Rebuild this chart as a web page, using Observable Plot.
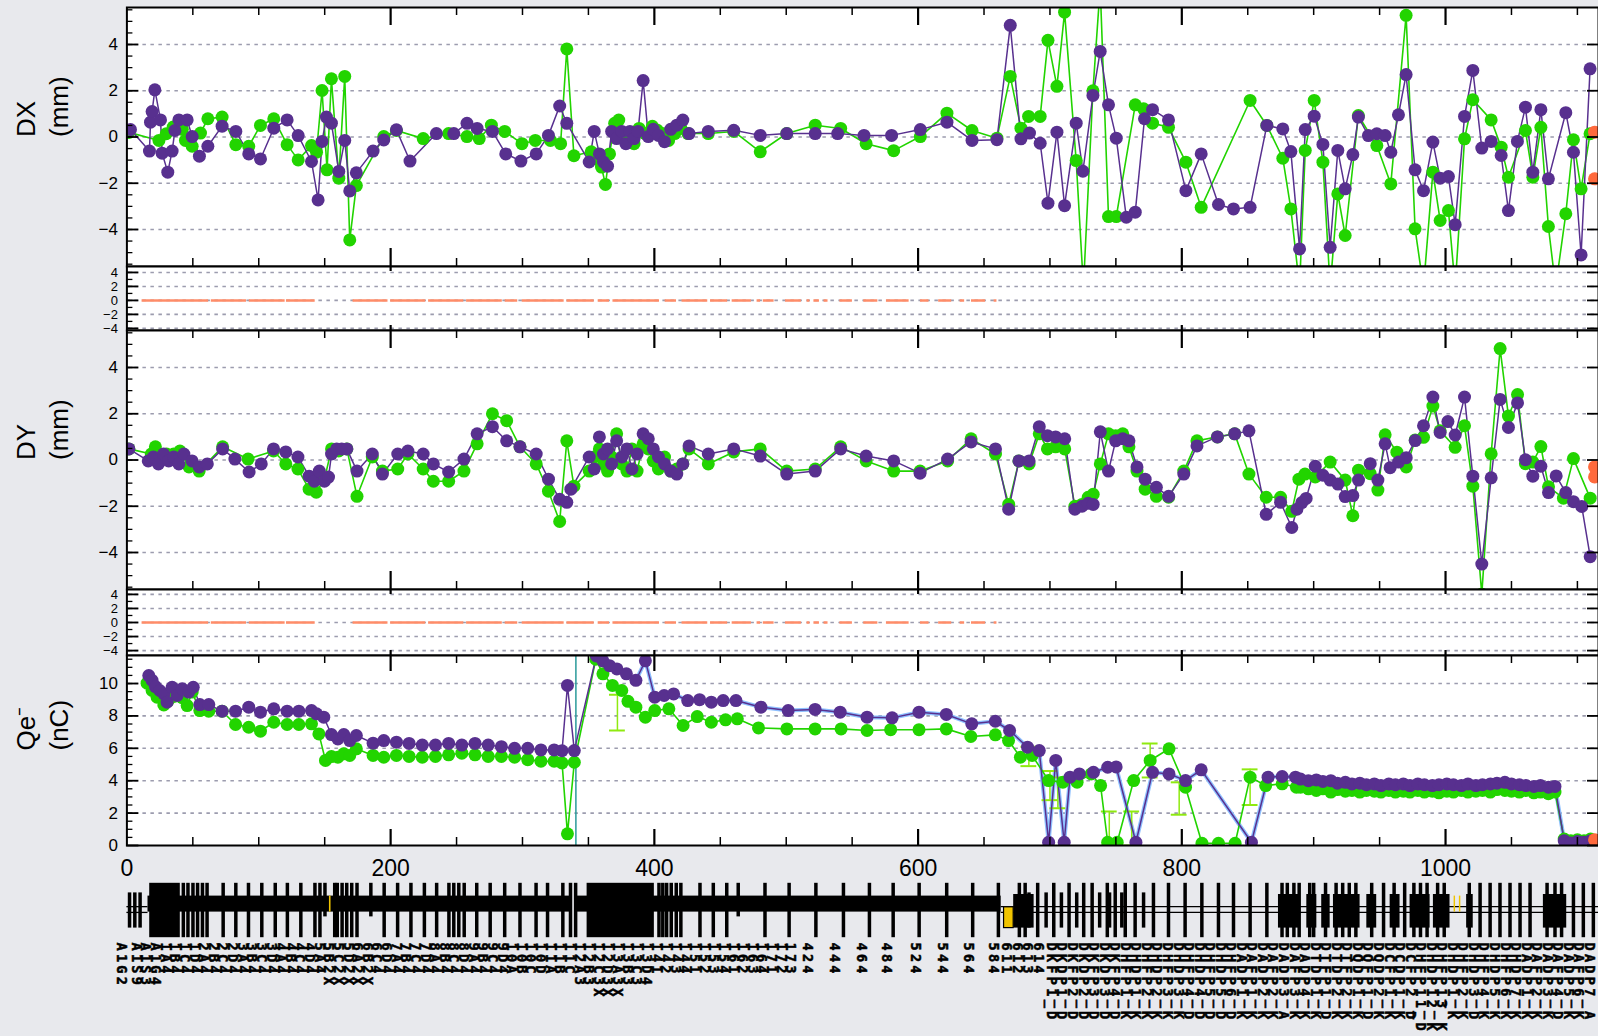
<!DOCTYPE html>
<html><head><meta charset="utf-8">
<script src="https://cdn.jsdelivr.net/npm/d3@7"></script>
<script src="https://cdn.jsdelivr.net/npm/@observablehq/plot@0.6"></script>
<style>
html,body{margin:0;padding:0;background:#e8e9ed;}
#wrap{position:relative;width:1598px;height:1036px;overflow:hidden;background:#e8e9ed;}
#wrap>div{position:absolute;left:0;}
</style></head><body><div id="wrap"></div>
<script>
// ---------------- DATA ----------------
const xTickLabels = [0, 200, 400, 600, 800, 1000];
const xMajorTicks = [200, 400, 600, 800, 1000];
const xMinorTicks = [50,100,150,250,300,350,450,500,550,650,700,750,850,900,950,1050,1100];

const dTicksMajor = [-4, -2, 0, 2, 4];
const dTicksMinor = [-5.5,-5,-4.5,-4,-3.5,-3,-2.5,-2,-1.5,-1,-0.5,0,0.5,1,1.5,2,2.5,3,3.5,4,4.5,5,5.5];
const sTicksMinor = [-4,-3,-2,-1,0,1,2,3,4];
const qTicksMajor = [0, 2, 4, 6, 8, 10];
const qTicksMinor = [0.5,1,1.5,2,2.5,3,3.5,4,4.5,5,5.5,6,6.5,7,7.5,8,8.5,9,9.5,10,10.5,11,11.5];
const qGrid = [2, 4, 6, 8, 10];

const dxPurple = [[2.7,0.32],[17.1,-0.61],[17.9,0.64],[19.1,1.10],[21.2,2.04],[25.5,0.74],[26.7,-0.70],[31.0,-1.52],[34.3,-0.61],[36.4,0.28],[39.4,0.74],[45.7,0.74],[49.5,0.02],[55.0,-0.83],[61.4,-0.40],[72.2,0.47],[82.6,0.24],[92.4,-0.73],[101.3,-0.95],[111.4,0.38],[121.5,0.74],[129.9,0.06],[140.0,-1.06],[145.0,-2.72],[148.0,-0.19],[151.3,0.86],[155.1,0.60],[160.7,-1.49],[165.2,-0.15],[169.0,-2.33],[174.0,-1.55],[186.7,-0.61],[194.8,-0.13],[204.4,0.31],[214.7,-1.04],[234.7,0.15],[247.9,0.15],[257.9,0.59],[265.6,0.37],[277.2,0.24],[287.3,-0.73],[298.8,-1.04],[310.4,-0.73],[319.7,0.07],[328.2,1.34],[333.6,0.59],[350.6,-1.08],[354.4,0.24],[358.3,-0.73],[361.4,-1.08],[364.5,-1.26],[367.6,0.24],[371.4,-0.07],[375.3,0.24],[378.4,-0.29],[381.5,0.24],[384.6,-0.07],[387.6,0.24],[391.5,2.44],[395.4,0.02],[399.2,0.33],[403.1,0.07],[407.7,-0.2],[412.4,0.33],[417,0.51],[421.6,0.73],[426.3,0.15],[440.9,0.24],[460.2,0.29],[480.3,0.07],[500.4,0.15],[522,0.15],[539,0.15],[559,0.07],[579.9,0.07],[601.7,0.32],[621.9,0.64],[640.9,-0.15],[659.8,-0.12],[669.9,4.83],[678,-0.08],[684.5,0.17],[692.6,-0.27],[698.5,-2.86],[705.3,0.21],[711.1,-2.97],[719.9,0.6],[725,-1.48],[732.6,1.8],[738.1,3.7],[744.4,1.39],[750.3,-0.05],[757.9,-3.47],[764.7,-3.25],[771.7,0.79],[777.8,1.18],[789.9,0.74],[803.1,-2.32],[814.7,-0.73],[827.8,-2.92],[839.2,-3.11],[851.8,-3.04],[864.5,0.5],[876.6,0.35],[882.7,-0.63],[889.3,-4.84],[893.6,0.32],[900.4,0.9],[907,-0.32],[912.5,-4.77],[918.3,-0.58],[923.9,-2.24],[929.7,-0.76],[933.9,0.86],[941.5,0.06],[947.9,0.14],[954.2,0.06],[958.5,-0.66],[964.3,0.96],[970.1,2.7],[976.9,-1.42],[983.3,-2.32],[990.4,-0.22],[995.9,-1.78],[1002.2,-1.71],[1007.3,-3.79],[1014.4,0.89],[1020.7,2.88],[1027.5,-0.48],[1034.6,-0.19],[1042.2,-0.8],[1047.7,-3.18],[1054.5,-0.19],[1060.6,1.29],[1066.2,-1.52],[1072.3,1.18],[1078,-1.81],[1091.2,1.05],[1097,-0.66],[1102.8,-5.1],[1109.6,2.95]];
const dxGreen = [[1.5,0.2],[24.3,-0.15],[29.8,0.14],[35.1,0.43],[42,0.33],[44.4,-0.15],[49.5,-0.4],[55.8,0.17],[61.4,0.79],[72.2,0.86],[82.6,-0.33],[92.4,-0.4],[101.3,0.5],[111.4,0.79],[121.5,-0.33],[129.9,-0.99],[140,-0.37],[143.8,-0.66],[148,2.01],[151.8,-1.42],[155.1,2.52],[160.7,-1.78],[165.2,2.62],[169,-4.45],[174,-2.1],[194.8,0.02],[204.4,0.28],[224.7,-0.07],[244,0.15],[257.9,0.02],[267.2,-0.07],[276.4,0.51],[286.5,0.24],[299.6,-0.29],[309.7,-0.15],[321.2,-0.15],[328.9,-0.29],[333.6,3.81],[339,-0.81],[352.1,-0.64],[356,-0.95],[359.9,-1.3],[362.9,-2.05],[366,-0.73],[369.9,0.59],[373,0.73],[376.8,0.15],[380.7,-0.15],[384.6,-0.29],[388.4,0.37],[393.1,0.15],[398.5,0.46],[402.3,0.29],[406.2,0.15],[410.8,-0.15],[415.4,0.15],[420.1,0.37],[425.5,0.15],[440.9,0.15],[460.2,0.24],[480.3,-0.64],[500.4,0.15],[522,0.51],[541.3,0.37],[560.6,-0.29],[581.5,-0.59],[601.7,0.02],[621.9,1.03],[640.9,0.28],[659.8,-0.05],[669.9,2.62],[678,0.38],[683.8,0.89],[692.6,0.89],[698.5,4.18],[705.3,2.19],[711.1,5.4],[719.9,-1.02],[725.4,-6.5],[732.6,2.0],[738.1,6.5],[744.4,-3.44],[750.3,-3.44],[764.7,1.39],[771,1.22],[777.8,0.6],[789.9,0.42],[803.1,-1.09],[814.7,-3.04],[851.8,1.58],[864.5,0.5],[876.6,-0.92],[882.7,-3.11],[889.3,-6.5],[893.6,-0.58],[900.4,1.58],[907,-1.09],[912.5,-6.5],[918.3,-2.46],[923.9,-4.26],[933.9,0.93],[947.9,-0.37],[958.5,-2.03],[970.1,5.26],[976.9,-3.97],[983.3,-6.5],[990.4,-1.52],[995.9,-3.61],[1002.2,-3.18],[1007.3,-6.5],[1014.4,-0.08],[1020.7,1.61],[1034.6,0.74],[1042.2,-0.44],[1047.7,-1.74],[1060.6,0.28],[1066.2,-1.74],[1072.3,0.42],[1078,-3.87],[1083.5,-6.5],[1091.2,-3.32],[1097,-0.12],[1102.8,-2.24],[1109.6,0.14]];
const dxOrange = [[1113,0.21],[1113,-1.81]];

const dyPurple = [[1.5,0.48],[16.2,-0.04],[20.1,0.13],[23.9,-0.17],[27.8,0.26],[31.7,-0.04],[35.5,0.13],[39.4,-0.17],[43.2,0.26],[49.4,-0.04],[54.8,-0.3],[61,-0.17],[72.6,0.48],[81.9,0.04],[92.7,-0.52],[101.9,-0.17],[111.2,0.48],[120.5,0.35],[129.7,0.13],[138.2,-0.7],[142.1,-0.92],[145.9,-0.48],[149.8,-0.92],[152.9,-0.74],[155.2,0.26],[159.1,0.48],[162.9,0.48],[166.8,0.48],[174.5,-0.48],[186.1,0.26],[193.8,-0.61],[205.4,0.26],[213.1,0.39],[224.7,0.26],[232.4,-0.17],[244,-0.52],[255.6,0.04],[265.6,1.13],[277.2,1.44],[288,0.83],[298.1,0.57],[310.4,0.26],[319.7,-0.83],[328.2,-1.7],[333.6,-1.83],[336.7,-1.26],[350.6,0.13],[354.4,-0.39],[358.3,1.0],[361.4,0.26],[364.5,0.48],[367.6,-0.17],[371.4,0.83],[375.3,0.13],[379.2,0.48],[383,-0.39],[386.9,0.26],[391.5,1.13],[395.4,0.92],[399.2,0.48],[403.1,0.13],[407.7,-0.17],[412.4,-0.48],[417,-0.61],[421.6,-0.17],[426.3,0.61],[440.9,0.26],[460.2,0.48],[480.3,0.17],[500.4,-0.61],[522,-0.48],[541.3,0.48],[560.6,0.17],[581.5,-0.04],[601.5,-0.57],[622.4,0.04],[640.2,0.78],[658.7,0.48],[668.7,-2.13],[676.5,-0.04],[684.2,-0.04],[691.9,1.44],[698.1,1.05],[704.3,1.0],[711.2,0.92],[718.9,-2.13],[724.3,-2.0],[729,-1.87],[732.8,-1.92],[738.2,1.22],[744.4,-0.48],[749.8,0.83],[755.2,0.92],[759.9,0.83],[766,-0.3],[772.2,-0.83],[780.7,-1.18],[790,-1.57],[801.5,-0.61],[811.5,0.61],[827,1.0],[840.1,1.13],[850.9,1.26],[864,-2.35],[874.9,-1.83],[883.4,-2.92],[887.3,-2.13],[891,-1.84],[894.3,-1.66],[901.2,-0.27],[907,-0.66],[912.5,-0.87],[918.4,-1.04],[923.9,-1.58],[929.7,-1.54],[934,-0.87],[942.9,-0.16],[948.7,-0.87],[954.2,0.7],[958,-0.33],[964.4,-0.09],[970.2,0.1],[977,0.84],[983.3,1.48],[990.4,2.72],[995.9,1.19],[1001.8,1.66],[1007.3,1.08],[1014.4,2.72],[1020.7,-0.7],[1027.5,-4.5],[1034.6,-0.77],[1041.4,2.62],[1047.7,1.41],[1054.6,2.47],[1060.6,0.01],[1066.2,-0.7],[1072.3,-0.27],[1078.1,-1.41],[1083.9,-0.69],[1091.2,-1.41],[1097,-1.8],[1103.3,-2.01],[1109.7,-4.18]];
const dyGreen = [[1.5,0.48],[18.5,0.26],[21.6,0.57],[26.3,0.04],[30.1,0.26],[35.5,0.26],[40.2,0.39],[47.1,-0.3],[54.8,-0.48],[72.6,0.57],[91.9,0.04],[111.2,0.39],[120.5,-0.17],[129.7,-0.39],[138.2,-1.26],[143.6,-1.39],[149.8,-0.83],[155.2,0.48],[160.6,0.39],[166.8,0.48],[174.5,-1.57],[186.1,0.13],[193.8,-0.48],[205.4,-0.39],[213.1,0.26],[224.7,-0.39],[232.4,-0.92],[244,-0.92],[255.6,-0.48],[265.6,0.7],[277.2,2.0],[288,1.7],[298.1,0.57],[310.4,-0.17],[319.7,-1.35],[328.2,-2.66],[333.6,0.83],[339,-1.13],[350.6,-0.48],[354.4,0.13],[358.3,0.48],[361.4,-0.17],[364.5,-0.48],[367.6,0.13],[371.4,1.13],[375.3,-0.17],[379.2,-0.48],[383,0.48],[386.9,-0.48],[391.5,0.7],[395.4,0.48],[399.2,-0.04],[403.1,-0.39],[407.7,0.13],[412.4,-0.48],[417,-0.39],[421.6,-0.17],[426.3,0.48],[440.9,-0.17],[460.2,0.35],[480.3,0.48],[500.4,-0.48],[522,-0.39],[541.3,0.57],[560.6,-0.04],[581.5,-0.48],[601.5,-0.48],[622.4,-0.04],[640.2,0.92],[658.7,0.26],[668.7,-1.92],[676.5,-0.04],[684.2,-0.17],[691.9,1.13],[698.1,0.48],[704.3,0.57],[711.2,0.48],[718.9,-2.0],[724.3,-1.92],[729,-1.61],[732.8,-1.48],[738.2,-0.17],[744.4,1.13],[749.8,1.05],[755.2,1.13],[759.9,0.57],[766,-0.48],[772.2,-1.26],[780.7,-1.57],[790,-1.61],[801.5,-0.48],[811.5,0.83],[827,1.0],[840.1,1.13],[850.9,-0.61],[864,-1.61],[874.9,-1.61],[883.4,-2.22],[888.8,-0.83],[893.4,-0.61],[901.2,-0.73],[912.5,-0.09],[923.9,-0.87],[929.7,-2.41],[934,-0.44],[942.9,-0.59],[948.7,-1.3],[954.2,1.09],[963.1,0.34],[970.2,-0.3],[977,0.87],[983.3,0.98],[990.4,2.33],[995.9,1.26],[1007.3,0.55],[1014.4,1.48],[1020.7,-1.13],[1027.5,-5.8],[1034.6,0.27],[1041.4,4.82],[1047.7,1.9],[1054.6,2.83],[1060.6,-0.16],[1066.2,-0.09],[1072.3,0.58],[1078.1,-1.16],[1089.4,-1.65],[1097,0.06],[1109.7,-1.65]];
const dyOrange = [[1113,-0.3],[1113,-0.73]];

const qePurple = [[16.6,10.49],[19.1,10.19],[21.6,9.81],[24.9,9.57],[28,9.36],[30.5,8.85],[34.3,9.77],[38.1,9.26],[41.9,9.67],[46.9,9.47],[50.3,9.77],[55.3,8.7],[62.1,8.7],[72.2,8.29],[82.4,8.29],[92.4,8.54],[101.3,8.23],[111.4,8.44],[121.5,8.29],[130.4,8.29],[140,8.33],[143.8,8.13],[149.3,7.92],[155.1,6.85],[160,6.58],[164.5,6.85],[169,6.48],[174,6.79],[186.7,6.32],[194.8,6.48],[204.4,6.38],[214,6.3],[224,6.2],[234,6.2],[244,6.3],[254,6.2],[264,6.3],[274,6.2],[284,6.1],[294,6.0],[304,6.0],[314,5.9],[324,5.9],[330,5.85],[334.1,9.88],[339.3,5.86],[356,11.7],[361,11.4],[366,11.1],[371.6,10.9],[378.8,10.6],[386,10.2],[393.2,11.4],[400.3,9.16],[407.4,9.26],[414.6,9.36],[425.3,8.95],[434.3,9.0],[443.2,8.85],[452.2,8.95],[461.9,8.95],[480.8,8.54],[501.5,8.33],[521.9,8.4],[540.9,8.23],[561.3,7.92],[580.3,7.88],[600.7,8.23],[621.4,8.09],[640.7,7.51],[658.6,7.67],[669.4,7.1],[683,6.07],[691.9,5.86],[699,0.2],[704.4,5.25],[710.8,0.2],[715.2,4.22],[722.3,4.42],[733,4.52],[743.8,4.83],[750.2,4.85],[765.2,0.2],[777.8,4.52],[790.3,4.42],[802.8,4.01],[814.7,4.67],[852.8,0.2],[865.4,4.22],[876.1,4.26],[886.2,4.22],[890,4.1],[896,4.0],[902,4.05],[907,3.95],[913,4.0],[918,3.85],[924,3.9],[929,3.8],[935,3.85],[940,3.75],[946,3.8],[951,3.7],[957,3.8],[962,3.75],[968,3.8],[973,3.7],[979,3.8],[984,3.75],[990,3.7],[995,3.75],[1001,3.8],[1006,3.75],[1012,3.7],[1017,3.8],[1023,3.7],[1028,3.75],[1034,3.8],[1039,3.85],[1045,3.9],[1050,3.8],[1056,3.75],[1061,3.7],[1067,3.65],[1072,3.7],[1078,3.6],[1083,3.65],[1090,0.3],[1095,0.15],[1100,0.25],[1105,0.2],[1110,0.3],[1115,0.25]];
const qeGreen = [[15.3,10.02],[19.1,9.57],[22.9,9.16],[28,8.68],[31.3,8.95],[35.6,9.2],[41.9,9.12],[45.7,8.64],[49.5,9.47],[55.3,8.33],[62.1,8.29],[72.2,8.29],[82.4,7.47],[92.4,7.3],[101.3,7.06],[111.4,7.61],[121.5,7.47],[130.4,7.47],[140,7.51],[145.6,6.89],[150.6,5.25],[155.1,5.49],[160,5.45],[164.5,5.66],[169,5.56],[174,5.97],[186.7,5.56],[194.8,5.45],[204.4,5.56],[214,5.5],[224,5.45],[234,5.5],[244,5.6],[254,5.7],[264,5.6],[274,5.5],[284,5.5],[294,5.45],[304,5.3],[314,5.2],[324,5.2],[330,5.1],[334.1,0.72],[339.3,5.14],[355.6,11.5],[361,10.6],[368.2,9.88],[375.3,9.57],[380,8.9],[386,8.54],[393.2,7.92],[400.3,8.33],[411,8.44],[421.8,7.41],[432.5,7.96],[443.2,7.61],[454,7.76],[462.9,7.82],[479,7.26],[500.5,7.2],[521.9,7.2],[541.6,7.2],[561.3,7.1],[579.2,7.15],[600.7,7.15],[621.4,7.2],[640,6.73],[658.6,6.83],[668.6,6.48],[677.6,5.45],[686.5,5.56],[699,4.01],[709.8,3.91],[720.6,3.91],[731.3,4.42],[738.4,3.7],[743.8,0.2],[751,0.2],[763.5,4.01],[776,5.25],[790.3,5.97],[802.8,3.6],[815.3,0.14],[827.8,0.14],[840.4,0.14],[851.8,4.22],[863.6,3.7],[876.1,3.81],[886.9,3.6],[890,3.6],[896,3.5],[902,3.4],[907,3.5],[913,3.3],[918,3.45],[924,3.35],[929,3.4],[935,3.3],[940,3.4],[946,3.35],[951,3.3],[957,3.4],[962,3.3],[968,3.35],[973,3.3],[979,3.4],[984,3.3],[990,3.35],[995,3.25],[1001,3.35],[1006,3.3],[1012,3.4],[1017,3.3],[1023,3.35],[1028,3.4],[1034,3.3],[1039,3.45],[1045,3.4],[1050,3.35],[1056,3.3],[1061,3.4],[1067,3.25],[1072,3.3],[1078,3.2],[1083,3.3],[1090,0.4],[1095,0.3],[1100,0.35],[1105,0.3],[1110,0.4],[1115,0.3]];
const qeOrange = [[1113,0.35]];
const qeGreenErr = [[372,7.1,9.3],[684,4.9,6.1],[700,2.8,4.6],[706,2.3,4.2],[745,0,2.1],[762,0,2.1],[776,4.2,6.3],[798,1.9,3.9],[851.8,2.5,4.7]];
const qeMarker = [340.5];

// reference (zero) traces in the small panels: [from, to]
const refSegments = [[11.5,62],[64,90.7],[92.8,120],[121,142.8],[171.5,198],[200,226.6],[228.8,255.5],[257.6,284.7],[286.9,296.4],[299.8,331.6],[333.7,354.4],[357.4,366],[368.6,403.9],[408.2,416.8],[421,440.5],[442.6,455.6],[459,473.6],[477.9,480.5],[482.6,490.8],[499.5,511.5],[515.8,518],[521,525.2],[528.7,531.7],[540.7,550.2],[558.8,569.5],[576,593.2],[601.8,608.3],[615.6,625.5],[631.9,635.3],[640.5,651.2],[657.7,659.8]];

// beamline lattice
const latticeBand = [[16,336],[341,663]];
const latticeThin = [[0,16],[663,1116]];
const latticeQuads = [[2,"S"],[6,"S"],[10,"S"],[42.8,"F"],[46.3,"F"],[50.1,"F"],[53.6,"F"],[57.3,"F"],[60.8,"F"],[73,"F"],[82.6,"F"],[92.2,"F"],[102.3,"F"],[112.5,"F"],[121.7,"F"],[131.9,"F"],[142.6,"F"],[146.4,"F"],[150.2,"U"],[157.6,"F"],[159.5,"F"],[163.2,"F"],[166.7,"F"],[170.5,"F"],[174.5,"F"],[185,"U"],[195.1,"F"],[205.3,"F"],[215.4,"F"],[225.6,"F"],[234.9,"F"],[244.2,"F"],[247.9,"F"],[251.7,"F"],[255.8,"F"],[265.3,"F"],[275.5,"F"],[286.5,"F"],[298.1,"F"],[310.3,"F"],[319,"F"],[330.6,"F"],[336.4,"F"],[340.3,"F"],[403.5,"F"],[406.4,"F"],[409.3,"F"],[412.8,"F"],[416.6,"F"],[420.1,"F"],[434.6,"F"],[444.7,"F"],[454.9,"F"],[463.6,"U"],[483.9,"F"],[502.2,"F"],[522.5,"F"],[543.4,"F"],[563.1,"F"],[581.1,"F"],[600.8,"F"],[621.7,"F"],[641.4,"F"],[660.9,"F"],[676.8,"F"],[681.2,"F"],[684.1,"S"],[690.7,"F"],[697.1,"S"],[702.9,"F"],[708.7,"S"],[714.5,"F"],[720.3,"S"],[725.6,"F"],[732,"F"],[737.7,"S"],[743.5,"F"],[745.2,"S"],[749.5,"F"],[754.5,"S"],[757.1,"F"],[764.6,"F"],[771,"S"],[778.5,"F"],[789.9,"F"],[802.5,"F"],[815.2,"F"],[827.8,"F"],[839.2,"F"],[851.8,"F"],[864.5,"F"],[876,"F"],[880,"F"],[885,"F"],[889,"F"],[897,"F"],[900,"F"],[909,"F"],[917,"F"],[922,"F"],[927,"F"],[932,"F"],[944,"F"],[953,"F"],[961,"F"],[969,"F"],[976,"F"],[981,"F"],[986,"F"],[994,"F"],[999,"F"],[1018,"F"],[1026.2,"F"],[1033.8,"F"],[1041.3,"F"],[1048.9,"F"],[1056.5,"F"],[1064.1,"F"],[1077,"F"],[1083,"F"],[1088,"F"],[1097,"F"],[1104.5,"F"],[1112.1,"F"]];
const latticeBlocks = [[17.3,40.5,"F"],[349,400,"F"],[672.5,688,"M"],[873.3,889.7,"M"],[894.8,902.4,"M"],[906.1,912.5,"M"],[915,935.2,"M"],[940.3,947.8,"M"],[958,965.5,"M"],[973.1,988.3,"M"],[990.8,1003.4,"M"],[1016,1021,"M"],[1074.2,1091.9,"M"]];
const latticeCavities = [[153.6,154.8,"T"],[665.2,672.5,"B"],[1006.5,1007.6,"T"],[1010.5,1011.6,"T"]];

// element names (position along the beamline, name)
const elementLabels = [[-4.3,"A1G2"],[7,"A1S9"],[14.3,"A1S3"],[21.6,"A1G4"],[28.9,"1A4"],[36.2,"1B4"],[43.5,"1C4"],[50.8,"1D4"],[58.1,"2A4"],[65.4,"2B4"],[72.7,"2C4"],[80,"2D4"],[87.3,"3A4"],[94.6,"3B4"],[101.9,"3C4"],[109.2,"3D4"],[116.5,"4A4"],[123.8,"4B4"],[131.1,"4C4"],[138.4,"4D4"],[145.7,"5A4"],[153,"5B2X"],[160.3,"5C2X"],[167.6,"5D2X"],[174.9,"6A2X"],[182.2,"6B2X"],[189.5,"6C4"],[196.8,"6D4"],[204.1,"7A4"],[211.4,"7B4"],[218.7,"7C4"],[226,"7D4"],[233.3,"8A4"],[240.6,"8B4"],[247.9,"8C4"],[255.2,"8D4"],[262.5,"9A4"],[269.8,"9B4"],[277.1,"9C4"],[284.4,"9D4"],[291.7,"10A"],[299,"10B"],[306.3,"10C"],[313.6,"10D"],[320.9,"11A"],[328.2,"11B"],[335.5,"11C"],[342.8,"12A3"],[350.1,"12B3"],[357.4,"12C3X"],[364.7,"12D3X"],[372,"13A3X"],[379.3,"13B3"],[386.6,"13C3"],[393.9,"13D4"],[401.2,"141"],[408.5,"142"],[415.8,"143"],[423.1,"144"],[430.4,"151"],[437.7,"152"],[445,"153"],[452.3,"154"],[459.6,"161"],[466.9,"162"],[474.2,"163"],[481.5,"164"],[488.8,"171"],[496.1,"172"],[503.4,"173"],[515.8,"424"],[536.7,"444"],[556.8,"464"],[576,"484"],[597.7,"524"],[618.5,"544"],[637.8,"564"],[657,"584"],[666.7,"611"],[675.4,"612"],[683,"613"],[691.3,"614"],[701,"DKFP1_D"],[709,"DKDP1_D"],[717,"DKFP2_D"],[725,"DKDP2_D"],[733,"DKFP3_D"],[741,"DKDP3_D"],[749,"DKFP4_D"],[757,"DHFP1_K"],[765,"DHDP1_K"],[773,"DHFP2_K"],[781,"DHDP2_K"],[789,"DHFP3_K"],[797,"DHDP3_K"],[805,"DHFP4_D"],[813,"DHDP4_D"],[821,"DHFP5_D"],[829,"DHDP5_D"],[837,"DHFP6_D"],[845,"DADP1_K"],[853,"DAFP1_K"],[861,"DADP2_K"],[869,"DAFP2_K"],[877,"DADP3_A"],[885,"DAFP3_K"],[893,"DADP4_K"],[901,"DTDP1_K"],[909,"DTFP1_D"],[917,"DTDP2_K"],[925,"DTFP2_K"],[933,"DQDP1_K"],[941,"DQFP1_D"],[949,"DQDP2_K"],[957,"DCFP1_K"],[965,"DCDP1_K"],[973,"DCFP2_D"],[981,"DHFP11_D"],[989,"DHDP12_K"],[997,"DHFP13_K"],[1005,"DHDP1_K"],[1013,"DHFP2_K"],[1021,"DHDP3_D"],[1029,"DHFP4_K"],[1037,"DHDP5_K"],[1045,"DHFP6_K"],[1053,"DHDP7_K"],[1061,"DADP1_K"],[1069,"DAFP2_K"],[1077,"DADP3_K"],[1085,"DAFP4_D"],[1093,"DADP5_K"],[1101,"DAFP6_K"],[1109,"DADP7_A"]];

// ---------------- DRAWING ----------------
const W = 1598, ML = 126.4, XMAX = 1116, PW = W - ML;
const PURPLE = "#58308f", GREEN = "#22d400", ORANGE = "#ff6a3d", SEG = "#ff8c68", GRIDC = "#9c9cae";
const FONT = "Liberation Sans, Arial, Helvetica, sans-serif";
const fmt = d => (d < 0 ? "\u2212" + Math.abs(d) : String(d));
const xs = {domain: [0, XMAX], axis: null};

function series(purple, green, orange) {
  return [
    Plot.line(green, {x: d => d[0], y: d => d[1], stroke: GREEN, strokeWidth: 1.6, clip: true}),
    Plot.line(purple, {x: d => d[0], y: d => d[1], stroke: PURPLE, strokeWidth: 1.5, clip: true}),
    Plot.dot(green, {x: d => d[0], y: d => d[1], r: 6.5, fill: GREEN, clip: true}),
    Plot.dot(purple, {x: d => d[0], y: d => d[1], r: 6.5, fill: PURPLE, clip: true}),
    Plot.dot(orange, {x: d => d[0], y: d => d[1], r: 6.5, fill: ORANGE, clip: true})
  ];
}

function panel(o) {
  const h = o.height, mb = o.mb || 0;
  const fs = o.tickFont || 17;
  const marks = [
    Plot.frame({fill: "white", stroke: null}),
    Plot.ruleY(o.grid, {y: d => d, stroke: GRIDC, strokeWidth: 1.6, strokeDasharray: "3.5,4.5"}),
    ...o.marks,
    Plot.tickY(o.minorY, {y: d => d, insetRight: PW - 6, stroke: "black", strokeWidth: 1.3}),
    Plot.tickY(o.majorY, {y: d => d, insetRight: PW - 12, stroke: "black", strokeWidth: 1.8}),
    Plot.tickY(o.majorY, {y: d => d, insetLeft: PW - 11, stroke: "black", strokeWidth: 1.8}),
    Plot.text(o.majorY, {y: d => d, text: fmt, frameAnchor: "left", dx: -9, textAnchor: "end", fontSize: fs, fontFamily: FONT, fill: "black"}),
    Plot.text([o.title], {frameAnchor: "left", dx: -86, rotate: -90, fontSize: 26, lineHeight: 1.27, fontFamily: FONT, fill: "black", text: d => d}),
    Plot.frame({stroke: "black", strokeWidth: 2})
  ];
  if (o.xMinorLen) {
    marks.push(Plot.tickX(xMinorTicks, {x: d => d, insetBottom: h - o.xMinorLen, stroke: "black", strokeWidth: 1.5}));
    marks.push(Plot.tickX(xMinorTicks, {x: d => d, insetTop: h - o.xMinorLen, stroke: "black", strokeWidth: 1.5}));
  }
  marks.push(Plot.tickX(xMajorTicks, {x: d => d, insetBottom: h - o.xMajorLen, stroke: "black", strokeWidth: 2.2}));
  marks.push(Plot.tickX(xMajorTicks, {x: d => d, insetTop: h - o.xMajorLen, stroke: "black", strokeWidth: 2.2}));
  if (o.xLabels) {
    marks.push(Plot.text(xTickLabels, {x: d => d, text: d => String(d), frameAnchor: "bottom", dy: 30, fontSize: 23, fontFamily: FONT, fill: "black"}));
  }
  return Plot.plot({
    width: W, height: h + mb, marginLeft: ML, marginRight: 0, marginTop: 0, marginBottom: mb,
    x: xs, y: {domain: o.ydomain, axis: null},
    style: "background: transparent; overflow: visible;",
    marks
  });
}

const wrap = document.getElementById("wrap");
function place(svg, top) { const d = document.createElement("div"); d.style.top = top + "px"; d.appendChild(svg); wrap.appendChild(d); }

const refMarks = [Plot.ruleY(refSegments, {x1: d => d[0], x2: d => d[1], y: 0, stroke: SEG, strokeWidth: 2.5, clip: true})];

place(panel({height: 259, ydomain: [-5.6, 5.6], grid: dTicksMajor, majorY: dTicksMajor, minorY: dTicksMinor,
  title: "DX\n(mm)", xMinorLen: 8, xMajorLen: 18, marks: series(dxPurple, dxGreen, dxOrange)}), 7);
place(panel({height: 64, ydomain: [-4.3, 4.85], grid: dTicksMajor, majorY: dTicksMajor, minorY: sTicksMinor, tickFont: 13,
  title: "", xMinorLen: 0, xMajorLen: 5, marks: refMarks}), 266);
place(panel({height: 259, ydomain: [-5.6, 5.6], grid: dTicksMajor, majorY: dTicksMajor, minorY: dTicksMinor,
  title: "DY\n(mm)", xMinorLen: 8, xMajorLen: 18, marks: series(dyPurple, dyGreen, dyOrange)}), 330);
place(panel({height: 66, ydomain: [-4.7, 4.7], grid: dTicksMajor, majorY: dTicksMajor, minorY: sTicksMinor, tickFont: 13,
  title: "", xMinorLen: 0, xMajorLen: 5, marks: refMarks}), 589);

const qeMarks = [
  Plot.ruleX(qeMarker, {x: d => d, stroke: "#2a9a9a", strokeWidth: 1.5}),
  Plot.line(qePurple.filter(d => d[0] > 340), {x: d => d[0], y: d => d[1], stroke: "#8ec0ff", strokeWidth: 4, clip: true}),
  Plot.ruleX(qeGreenErr, {x: d => d[0], y1: d => d[1], y2: d => d[2], stroke: "#8fea10", strokeWidth: 1.5, clip: true}),
  Plot.ruleY(qeGreenErr, {y: d => d[1], x1: d => d[0] - 6, x2: d => d[0] + 6, stroke: "#8fea10", strokeWidth: 2, clip: true}),
  Plot.ruleY(qeGreenErr, {y: d => d[2], x1: d => d[0] - 6, x2: d => d[0] + 6, stroke: "#8fea10", strokeWidth: 2, clip: true}),
  ...series(qePurple, qeGreen, qeOrange)
];
place(panel({height: 190, mb: 40, ydomain: [0, 11.73], grid: qGrid, majorY: qTicksMajor, minorY: qTicksMinor,
  title: "Qe\u207B\n(nC)", xMinorLen: 8, xMajorLen: 16, xLabels: true, marks: qeMarks}), 655);

// lattice
const qy = {F: 0.85, U: 0.85, S: 0.55};
const qyb = {F: -0.85, U: -0.2, S: -0.55};
place(Plot.plot({
  width: W, height: 64, marginLeft: ML, marginRight: 0, marginTop: 0, marginBottom: 0,
  x: xs, y: {domain: [-1, 1], axis: null},
  style: "background: transparent; overflow: visible;",
  marks: [
    Plot.ruleY(latticeThin, {x1: d => d[0], x2: d => d[1], y: 0.12, stroke: "black", strokeWidth: 1.3}),
    Plot.ruleY(latticeThin, {x1: d => d[0], x2: d => d[1], y: -0.06, stroke: "black", strokeWidth: 1.3}),
    Plot.rect(latticeBand, {x1: d => d[0], x2: d => d[1], y1: -0.05, y2: 0.45, fill: "black"}),
    Plot.rect(latticeBlocks, {x1: d => d[0], x2: d => d[1], y1: d => d[2] === "F" ? -0.85 : -0.55, y2: d => d[2] === "F" ? 0.85 : 0.5, fill: "black"}),
    Plot.ruleX(latticeQuads, {x: d => d[0], y1: d => qyb[d[1]], y2: d => qy[d[1]], stroke: "black", strokeWidth: 3.5}),
    Plot.rect(latticeCavities, {x1: d => d[0], x2: d => d[1], y1: d => d[2] === "B" ? -0.55 : -0.05, y2: d => d[2] === "B" ? 0.1 : 0.45, fill: "#f0c400", stroke: d => d[2] === "B" ? "black" : "none", strokeWidth: 1.2})
  ]
}), 878);

// element labels
place(Plot.plot({
  width: W, height: 96, marginLeft: ML, marginRight: 0, marginTop: 2, marginBottom: 0,
  x: xs, y: {axis: null},
  style: "background: transparent; overflow: visible; letter-spacing: 3.3px;",
  marks: [
    Plot.text(elementLabels, {x: d => d[0], text: d => d[1], frameAnchor: "top", rotate: 90, textAnchor: "start", lineAnchor: "middle", fontSize: 13.5, fontWeight: 900, fontFamily: "DejaVu Sans Mono, monospace", fill: "black", stroke: "black", strokeWidth: 0.5})
  ]
}), 940);
</script></body></html>
